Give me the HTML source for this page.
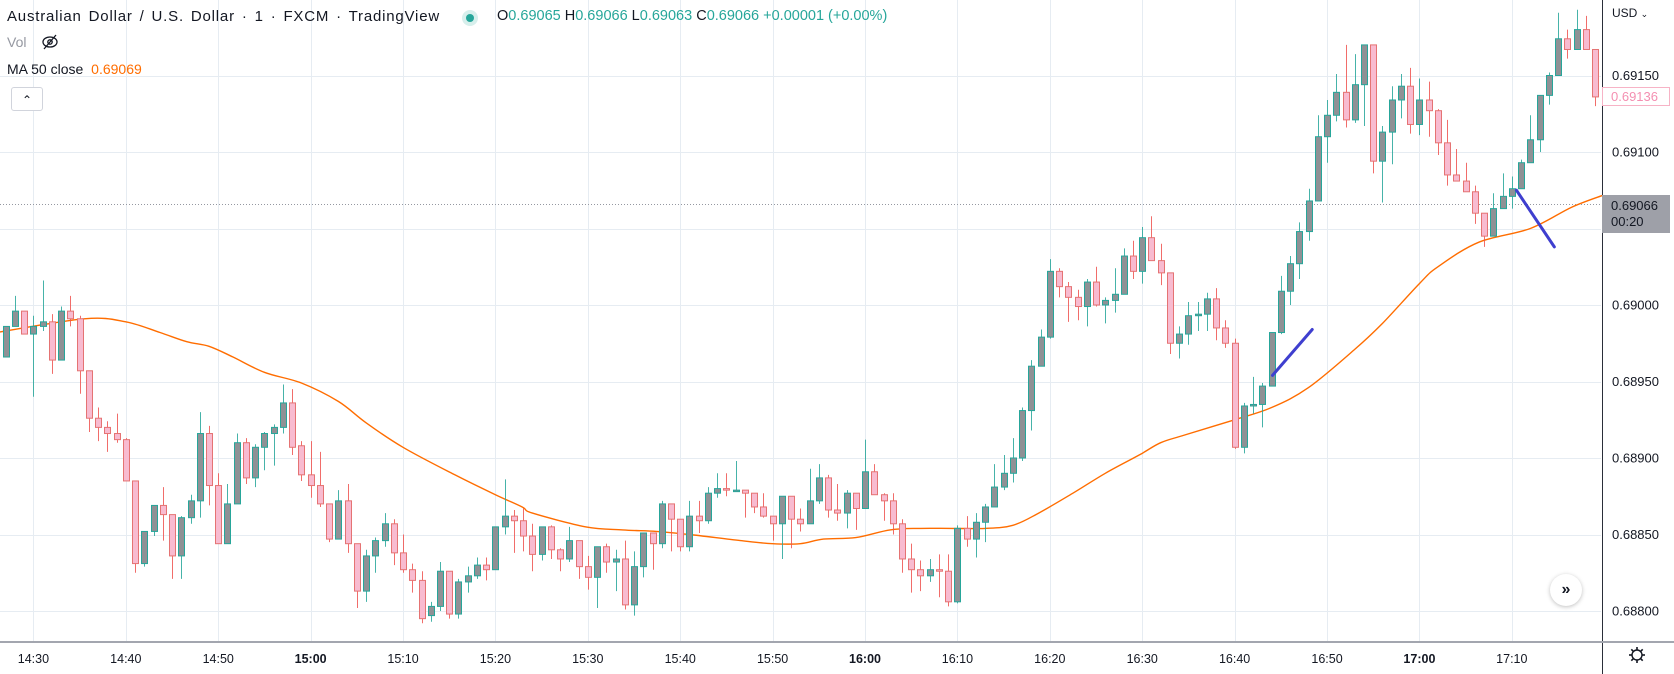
<!DOCTYPE html>
<html><head><meta charset="utf-8">
<style>
html,body{margin:0;padding:0;background:#fff;}
body{width:1674px;height:674px;overflow:hidden;position:relative;font-family:"Liberation Sans",sans-serif;color:#131722;}
#chart{position:absolute;left:0;top:0;}
.hdr{position:absolute;font-size:14px;white-space:nowrap;}
</style></head>
<body>
<svg id="chart" width="1674" height="674" xmlns="http://www.w3.org/2000/svg">
  <g id="grid"></g>
  <g id="ma"></g>
  <g id="candles"></g>
  <g id="draw"></g>
  <g id="axes"></g>
</svg>

<div class="hdr" style="left:7px;top:8px;font-size:15px;letter-spacing:0.8px;word-spacing:2px;">Australian Dollar / U.S. Dollar · 1 · FXCM · TradingView</div>
<div style="position:absolute;left:462px;top:10px;width:16px;height:16px;border-radius:50%;background:#d7efec;"><div style="position:absolute;left:4px;top:4px;width:8px;height:8px;border-radius:50%;background:#26a69a;"></div></div>
<div class="hdr" style="left:497px;top:8px;font-size:14.5px;color:#26a69a;"><span style="color:#131722">O</span>0.69065 <span style="color:#131722">H</span>0.69066 <span style="color:#131722">L</span>0.69063 <span style="color:#131722">C</span>0.69066 +0.00001 (+0.00%)</div>
<div class="hdr" style="left:7px;top:34px;font-size:14px;color:#9598a1;">Vol</div>
<svg style="position:absolute;left:40px;top:33px" width="20" height="18"><ellipse cx="10" cy="9" rx="7" ry="5" fill="none" stroke="#131722" stroke-width="1.3"/><circle cx="10" cy="9" r="2.2" fill="none" stroke="#131722" stroke-width="1.3"/><line x1="4" y1="16" x2="16" y2="2" stroke="#131722" stroke-width="1.3"/></svg>
<div class="hdr" style="left:7px;top:61px;font-size:14px;">MA 50 close <span style="color:#ff6d00;margin-left:4px;">0.69069</span></div>
<div style="position:absolute;left:11px;top:87px;width:30px;height:22px;border:1px solid #d1d4dc;border-radius:3px;background:#fff;text-align:center;font-size:12px;line-height:24px;">&#8963;</div>
<div style="position:absolute;left:1550px;top:574px;width:32px;height:32px;border-radius:50%;background:#fff;box-shadow:0 1px 4px rgba(0,0,0,0.25);text-align:center;line-height:31px;font-size:16px;font-weight:bold;color:#131722;">»</div>
<div class="hdr" style="left:1612px;top:6px;font-size:12px;">USD <span style="font-size:9px">&#8964;</span></div>
<div style="position:absolute;left:1602px;top:87px;width:68px;height:19px;border:1px solid #f7b3c6;box-sizing:border-box;background:#fff;color:#f48fb1;font-size:13px;line-height:18px;padding-left:8px;">0.69136</div>
<div style="position:absolute;left:1602px;top:195px;width:68px;height:38px;background:#9ea0a8;color:#131722;font-size:13px;line-height:16px;padding:3px 0 0 9px;box-sizing:border-box;">0.69066<br>00:20</div>
<svg style="position:absolute;left:1627px;top:645px" width="20" height="20"><circle cx="10" cy="10" r="5" fill="none" stroke="#131722" stroke-width="1.4"/><g stroke="#131722" stroke-width="1.6"><line x1="10" y1="2" x2="10" y2="5"/><line x1="10" y1="15" x2="10" y2="18"/><line x1="2" y1="10" x2="5" y2="10"/><line x1="15" y1="10" x2="18" y2="10"/><line x1="4.3" y1="4.3" x2="6.4" y2="6.4"/><line x1="13.6" y1="13.6" x2="15.7" y2="15.7"/><line x1="4.3" y1="15.7" x2="6.4" y2="13.6"/><line x1="13.6" y1="6.4" x2="15.7" y2="4.3"/></g></svg>

<script>
// Prices stored as (price*100000 - 68000), e.g. 1066 = 0.69066. One candle per minute starting 14:27.
const opens = [966,986,996,981,986,989,964,996,991,957,926,920,916,912,885,831,852,869,863,836,861,872,916,882,844,870,910,887,907,916,920,936,908,889,882,870,847,872,844,813,836,846,857,838,827,820,797,803,826,798,819,823,830,827,855,862,859,849,837,855,840,834,846,829,822,842,832,834,804,829,851,844,870,860,842,862,859,877,880,879,879,877,868,862,857,875,860,857,872,887,866,864,877,867,891,876,872,857,834,827,823,827,826,806,854,847,858,868,881,890,900,931,960,979,1022,1012,1005,999,1015,1000,1003,1007,1032,1022,1044,1029,1021,975,981,993,994,1004,985,975,907,934,935,947,982,1009,1027,1048,1068,1110,1124,1139,1121,1144,1170,1094,1113,1134,1143,1118,1134,1127,1106,1085,1081,1074,1060,1045,1063,1071,1076,1093,1108,1137,1150,1174,1167,1180,1167];
const highs = [986,1006,996,993,1016,994,999,1006,993,957,933,924,929,913,885,852,869,881,863,862,876,930,921,890,883,916,913,909,917,922,948,945,911,911,904,870,879,883,844,840,848,864,860,850,831,826,806,832,826,821,829,835,835,855,886,866,867,857,855,856,841,855,846,836,842,844,840,846,839,851,851,872,870,860,872,872,881,890,890,898,879,877,877,862,875,875,867,893,896,889,883,879,877,912,896,877,877,860,844,833,834,837,837,856,862,864,870,896,902,913,933,964,984,1030,1024,1015,1010,1017,1025,1005,1024,1037,1042,1051,1058,1040,1021,986,1002,1002,1008,1011,990,978,936,953,949,982,1019,1032,1054,1076,1124,1134,1151,1170,1164,1170,1170,1117,1143,1151,1155,1148,1146,1128,1121,1102,1093,1078,1060,1073,1086,1084,1095,1124,1137,1152,1191,1180,1193,1189,1167];
const lows = [966,986,981,940,983,955,964,986,942,917,911,904,910,885,825,829,849,846,821,821,857,861,869,844,844,870,883,881,892,895,916,902,885,874,868,845,847,838,802,806,825,842,830,825,812,792,793,800,795,795,812,821,820,827,850,838,839,826,833,834,826,832,821,814,802,825,813,801,797,822,827,841,839,839,839,851,857,874,875,879,861,864,861,846,834,841,852,857,870,861,859,854,853,867,876,859,850,825,812,813,819,809,803,805,842,835,845,868,879,884,898,918,960,978,1005,989,990,986,999,988,995,1007,1017,1014,1029,1013,968,965,974,983,983,977,972,906,903,929,920,947,981,1000,1017,1042,1068,1093,1120,1116,1119,1117,1086,1067,1092,1122,1112,1111,1110,1098,1078,1081,1074,1053,1038,1045,1063,1063,1076,1093,1100,1131,1150,1161,1167,1167,1130];
const closes = [986,996,981,986,989,964,996,991,957,926,920,916,912,885,831,852,869,863,836,861,872,916,882,844,870,910,887,907,916,920,936,907,889,882,870,847,872,844,813,836,846,857,838,827,820,795,803,826,798,819,823,830,827,855,862,859,849,837,855,840,834,846,829,822,842,832,834,804,829,851,844,870,860,842,862,859,877,880,879,879,877,868,862,857,875,860,857,872,887,866,864,877,867,891,876,872,857,834,827,823,827,826,806,854,847,858,868,881,890,900,931,960,979,1022,1012,1005,999,1015,1000,1003,1007,1032,1022,1044,1029,1021,975,981,993,994,1004,985,975,907,934,935,947,982,1009,1027,1048,1068,1110,1124,1139,1121,1144,1170,1094,1113,1134,1143,1118,1134,1127,1106,1085,1081,1074,1060,1045,1063,1071,1076,1093,1108,1137,1150,1174,1167,1180,1167,1136];
// MA 50 samples: candle index and value
const maIndex = [-1,8.5,13,16.7,19.6,22,24.6,28,32,36,39,43,48.6,53,55.9,57,62.8,66.8,70.4,74,79.5,83,86,88.5,92,95.7,98.8,102.4,106,109,111.8,115.5,119,122.7,125,127.6,133,137,141,146,149,153,155,159.4,165,169.5,173];
const maValue = [982,991,989,982,976,973,966,956,949,937,923,907,889,876,868,864,855,853,852,850,846,844,844,847,848,853,854,854,854,856,864,877,890,902,910,915,925,933,946,971,988,1014,1025,1041,1050,1064,1072];
const timeLabels = ['14:30','14:40','14:50','15:00','15:10','15:20','15:30','15:40','15:50','16:00','16:10','16:20','16:30','16:40','16:50','17:00','17:10'];
const priceTicks = [800,850,900,950,1000,1050,1100,1150];
const trendLine1 = [[137.1,954],[141.4,984]];
const trendLine2 = [[163.5,1075],[167.6,1038]];
const currentPrice = 1066;

const NS='http://www.w3.org/2000/svg';
const PLOT_R=1601, PLOT_B=641;
function xs(k){return 5.7+9.24*k;}
function ys(v){return 611-(v-800)*1.53;}
function mk(tag,attrs,parent){const e=document.createElementNS(NS,tag);for(const a in attrs)e.setAttribute(a,attrs[a]);parent.appendChild(e);return e;}

const grid=document.getElementById('grid');
timeLabels.forEach((t,j)=>{
  const x=Math.round(xs(3+10*j))+0.5;
  const l=mk('line',{x1:x,y1:0,x2:x,y2:PLOT_B,stroke:'#e6ecf2','stroke-width':1},grid);
  
  
});
priceTicks.forEach(v=>{
  const y=Math.round(ys(v))+0.5;
  const l=mk('line',{x1:0,y1:y,x2:PLOT_R,y2:y,stroke:'#e6ecf2','stroke-width':1},grid);
  
  
});
const cp=mk('line',{x1:0,y1:Math.round(ys(currentPrice))+0.5,x2:PLOT_R,y2:Math.round(ys(currentPrice))+0.5,stroke:'#9598a1','stroke-width':1,'stroke-dasharray':'1,2'},grid);



// MA (smoothed through sample points)
const maG=document.getElementById('ma');
const pts=maIndex.map((k,i)=>[xs(k),ys(maValue[i])]);
let d='M'+pts[0][0].toFixed(1)+','+pts[0][1].toFixed(1);
for(let i=0;i<pts.length-1;i++){
  const p0=pts[Math.max(i-1,0)],p1=pts[i],p2=pts[i+1],p3=pts[Math.min(i+2,pts.length-1)];
  const c1x=p1[0]+(p2[0]-p0[0])/6,c1y=p1[1]+(p2[1]-p0[1])/6;
  const c2x=p2[0]-(p3[0]-p1[0])/6,c2y=p2[1]-(p3[1]-p1[1])/6;
  d+='C'+c1x.toFixed(1)+','+c1y.toFixed(1)+' '+c2x.toFixed(1)+','+c2y.toFixed(1)+' '+p2[0].toFixed(1)+','+p2[1].toFixed(1);
}
const maPath=mk('path',{d:d,fill:'none',stroke:'#ff6d00','stroke-width':1.4,'stroke-linejoin':'round'},maG);



// candles
const cg=document.getElementById('candles');
opens.forEach((o,k)=>{
  const c=closes[k],h=highs[k],l=lows[k];
  const up=c>=o;
  const x=Math.round(xs(k));
  const g=mk('g',{},cg);
  
  
  const wc=up?'#26a69a':'#ef5350';
  mk('line',{x1:x+0.5,y1:ys(h),x2:x+0.5,y2:ys(l),stroke:wc,'stroke-width':1,'stroke-opacity':0.85},g);
  const top=ys(Math.max(o,c)),bot=ys(Math.min(o,c));
  mk('rect',{x:x-2.5,y:top,width:6,height:Math.max(bot-top,1.5),fill:up?'#8f9195':'#f8bbd0',stroke:up?'#26a69a':'#e57373','stroke-width':1},g);
});

// drawings
const dg=document.getElementById('draw');
[trendLine1,trendLine2].forEach(tl=>{
  const l=mk('line',{x1:xs(tl[0][0]),y1:ys(tl[0][1]),x2:xs(tl[1][0]),y2:ys(tl[1][1]),stroke:'#3f3fcf','stroke-width':3,'stroke-linecap':'round'},dg);
  
  
});

// axes
const ax=document.getElementById('axes');
mk('rect',{x:PLOT_R+1,y:0,width:80,height:674,fill:'#fff'},ax);
mk('rect',{x:0,y:PLOT_B,width:1674,height:33,fill:'#fff'},ax);
mk('line',{x1:PLOT_R+1.5,y1:0,x2:PLOT_R+1.5,y2:674,stroke:'#2a2e39','stroke-width':1},ax);
mk('line',{x1:0,y1:PLOT_B+1,x2:1674,y2:PLOT_B+1,stroke:'#a3a6af','stroke-width':2},ax);
priceTicks.forEach(v=>{
  const t=mk('text',{x:1612,y:ys(v)+4.5,'font-size':13,fill:'#131722','font-family':'Liberation Sans, sans-serif'},ax);
  t.textContent=(0.68+v/100000).toFixed(5);
  
  
});
timeLabels.forEach((lab,j)=>{
  const bold=lab.endsWith(':00');
  const t=mk('text',{x:xs(3+10*j),y:663,'font-size':12.5,fill:'#131722','text-anchor':'middle','font-weight':bold?'bold':'normal','font-family':'Liberation Sans, sans-serif'},ax);
  t.textContent=lab;
  
  
});
</script>
</body></html>
